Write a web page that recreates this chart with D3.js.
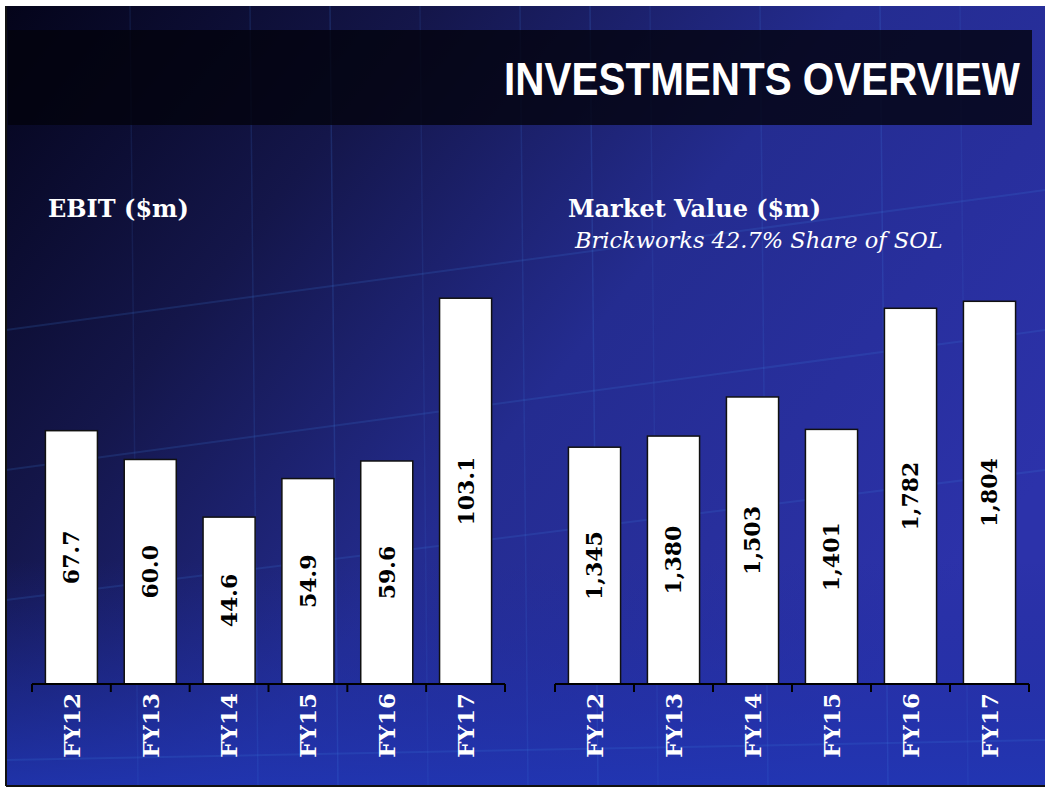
<!DOCTYPE html>
<html>
<head>
<meta charset="utf-8">
<script src="https://cdn.jsdelivr.net/npm/d3@7"></script>
<style>
  html, body { margin: 0; padding: 0; background: #ffffff; }
  svg { display: block; }
</style>
</head>
<body>
<svg id="chart" width="1045" height="788"></svg>
<script>
// ---- Data ----
const categories = ["FY12", "FY13", "FY14", "FY15", "FY16", "FY17"];
const ebitValues = [67.7, 60.0, 44.6, 54.9, 59.6, 103.1];
const ebitLabels = ["67.7", "60.0", "44.6", "54.9", "59.6", "103.1"];
const marketValues = [1345, 1380, 1503, 1401, 1782, 1804];
const marketLabels = ["1,345", "1,380", "1,503", "1,401", "1,782", "1,804"];
const titleText = "INVESTMENTS OVERVIEW";
const leftTitle = "EBIT ($m)";
const rightTitle = "Market Value ($m)";
const rightSubtitle = "Brickworks 42.7% Share of SOL";

const svg = d3.select("#chart");
const defs = svg.append("defs");

// ---- Background ----
const lg = defs.append("linearGradient").attr("id", "bgLin")
  .attr("x1", "0%").attr("y1", "0%").attr("x2", "100%").attr("y2", "60%");
lg.append("stop").attr("offset", "0%").attr("stop-color", "#04041a");
lg.append("stop").attr("offset", "30%").attr("stop-color", "#14164a");
lg.append("stop").attr("offset", "60%").attr("stop-color", "#242c90");
lg.append("stop").attr("offset", "100%").attr("stop-color", "#2c32aa");

const bottomGlow = defs.append("linearGradient").attr("id", "bottomGlow")
  .attr("x1", "0").attr("y1", "0").attr("x2", "0").attr("y2", "1");
bottomGlow.append("stop").attr("offset", "0%").attr("stop-color", "#1d2a9a").attr("stop-opacity", 0);
bottomGlow.append("stop").attr("offset", "100%").attr("stop-color", "#2036b4").attr("stop-opacity", 0.85);

svg.append("rect").attr("x", 6).attr("y", 6).attr("width", 1039).attr("height", 780)
  .attr("fill", "url(#bgLin)");
svg.append("rect").attr("x", 6).attr("y", 560).attr("width", 1039).attr("height", 226)
  .attr("fill", "url(#bottomGlow)");

// decorative faint grid (background image imitation)
const deco = svg.append("g").attr("stroke", "#3f7fe0").attr("fill", "none");
[130, 250, 330, 420, 520, 590, 650, 760, 880, 960].forEach((x, i) => {
  deco.append("line").attr("x1", x).attr("x2", x + 8).attr("y1", 6).attr("y2", 786)
    .attr("stroke-opacity", 0.12 + (i % 3) * 0.04).attr("stroke-width", 1.5);
});
[[6, 330, 1045, 190], [6, 470, 1045, 330], [6, 600, 1045, 470], [6, 760, 1045, 740]].forEach((d, i) => {
  deco.append("line").attr("x1", d[0]).attr("y1", d[1]).attr("x2", d[2]).attr("y2", d[3])
    .attr("stroke-opacity", 0.18).attr("stroke-width", 2);
});

// frame
svg.append("line").attr("x1", 6).attr("x2", 6).attr("y1", 6).attr("y2", 786)
  .attr("stroke", "#111").attr("stroke-width", 2);
svg.append("line").attr("x1", 6).attr("x2", 1045).attr("y1", 786).attr("y2", 786)
  .attr("stroke", "#111").attr("stroke-width", 2);

// ---- Title bar ----
svg.append("rect").attr("x", 8).attr("y", 30).attr("width", 1024).attr("height", 95)
  .attr("fill", "#03030c").attr("fill-opacity", 0.8);
const titleEl = svg.append("text")
  .attr("text-anchor", "end")
  .attr("font-family", "Liberation Sans, Arial, sans-serif")
  .attr("font-weight", "bold").attr("font-size", 46)
  .attr("fill", "#ffffff").text(titleText);
const natW = titleEl.node().getComputedTextLength() || 588;
const sx = 516 / natW;
titleEl.attr("transform", `translate(1020,95) scale(${sx},1)`);

// ---- Chart titles ----
const serif = "DejaVu Serif, Georgia, serif";
svg.append("text").attr("x", 48).attr("y", 217)
  .attr("font-family", serif).attr("font-weight", "bold").attr("font-size", 24)
  .attr("fill", "#ffffff").text(leftTitle);
svg.append("text").attr("x", 568).attr("y", 217)
  .attr("font-family", serif).attr("font-weight", "bold").attr("font-size", 24)
  .attr("fill", "#ffffff").text(rightTitle);
svg.append("text").attr("x", 575).attr("y", 248)
  .attr("font-family", serif).attr("font-style", "italic").attr("font-size", 22.5)
  .attr("fill", "#ffffff").text(rightSubtitle);

// ---- Bar chart builder ----
function barChart(x0, x1, values, labels, yDomain, yRangeTop) {
  const baseY = 684;
  const x = d3.scaleBand().domain(categories).range([x0, x1]).paddingInner(0.34).paddingOuter(0.17);
  const y = d3.scaleLinear().domain(yDomain).range([baseY, yRangeTop]);
  const g = svg.append("g");

  g.selectAll("rect.bar").data(values).join("rect")
    .attr("class", "bar")
    .attr("x", (d, i) => x(categories[i]))
    .attr("y", d => y(d))
    .attr("width", x.bandwidth())
    .attr("height", d => baseY - y(d))
    .attr("fill", "#ffffff").attr("stroke", "#111111").attr("stroke-width", 1.5);

  g.selectAll("text.val").data(values).join("text")
    .attr("class", "val")
    .attr("transform", (d, i) => {
      const cx = x(categories[i]) + x.bandwidth() / 2;
      const cy = (y(d) + baseY) / 2;
      return `translate(${cx},${cy}) rotate(-90)`;
    })
    .attr("text-anchor", "middle").attr("dy", "0.36em")
    .attr("font-family", serif).attr("font-weight", "bold").attr("font-size", 22)
    .attr("fill", "#000000")
    .text((d, i) => labels[i]);

  // axis with ticks between bands
  const axisG = g.append("g").attr("transform", `translate(0,${baseY})`);
  axisG.append("line").attr("x1", x0).attr("x2", x1).attr("y1", 0).attr("y2", 0)
    .attr("stroke", "#000").attr("stroke-width", 2);
  const tickXs = d3.range(categories.length + 1).map(i => x0 + i * (x1 - x0) / categories.length);
  axisG.selectAll("line.tick").data(tickXs).join("line").attr("class", "tick")
    .attr("x1", d => d).attr("x2", d => d).attr("y1", 0).attr("y2", 8)
    .attr("stroke", "#000").attr("stroke-width", 2);

  axisG.selectAll("text.cat").data(categories).join("text").attr("class", "cat")
    .attr("transform", d => `translate(${x(d) + x.bandwidth() / 2},9) rotate(-90)`)
    .attr("text-anchor", "end").attr("dy", "0.36em")
    .attr("font-family", serif).attr("font-weight", "bold").attr("font-size", 23)
    .attr("fill", "#ffffff")
    .text(d => d);
}

barChart(32, 505, ebitValues, ebitLabels, [0, 110], 684 - 411.6);
barChart(555, 1029, marketValues, marketLabels, [600, 2000], 684 - 445);
</script>
</body>
</html>
